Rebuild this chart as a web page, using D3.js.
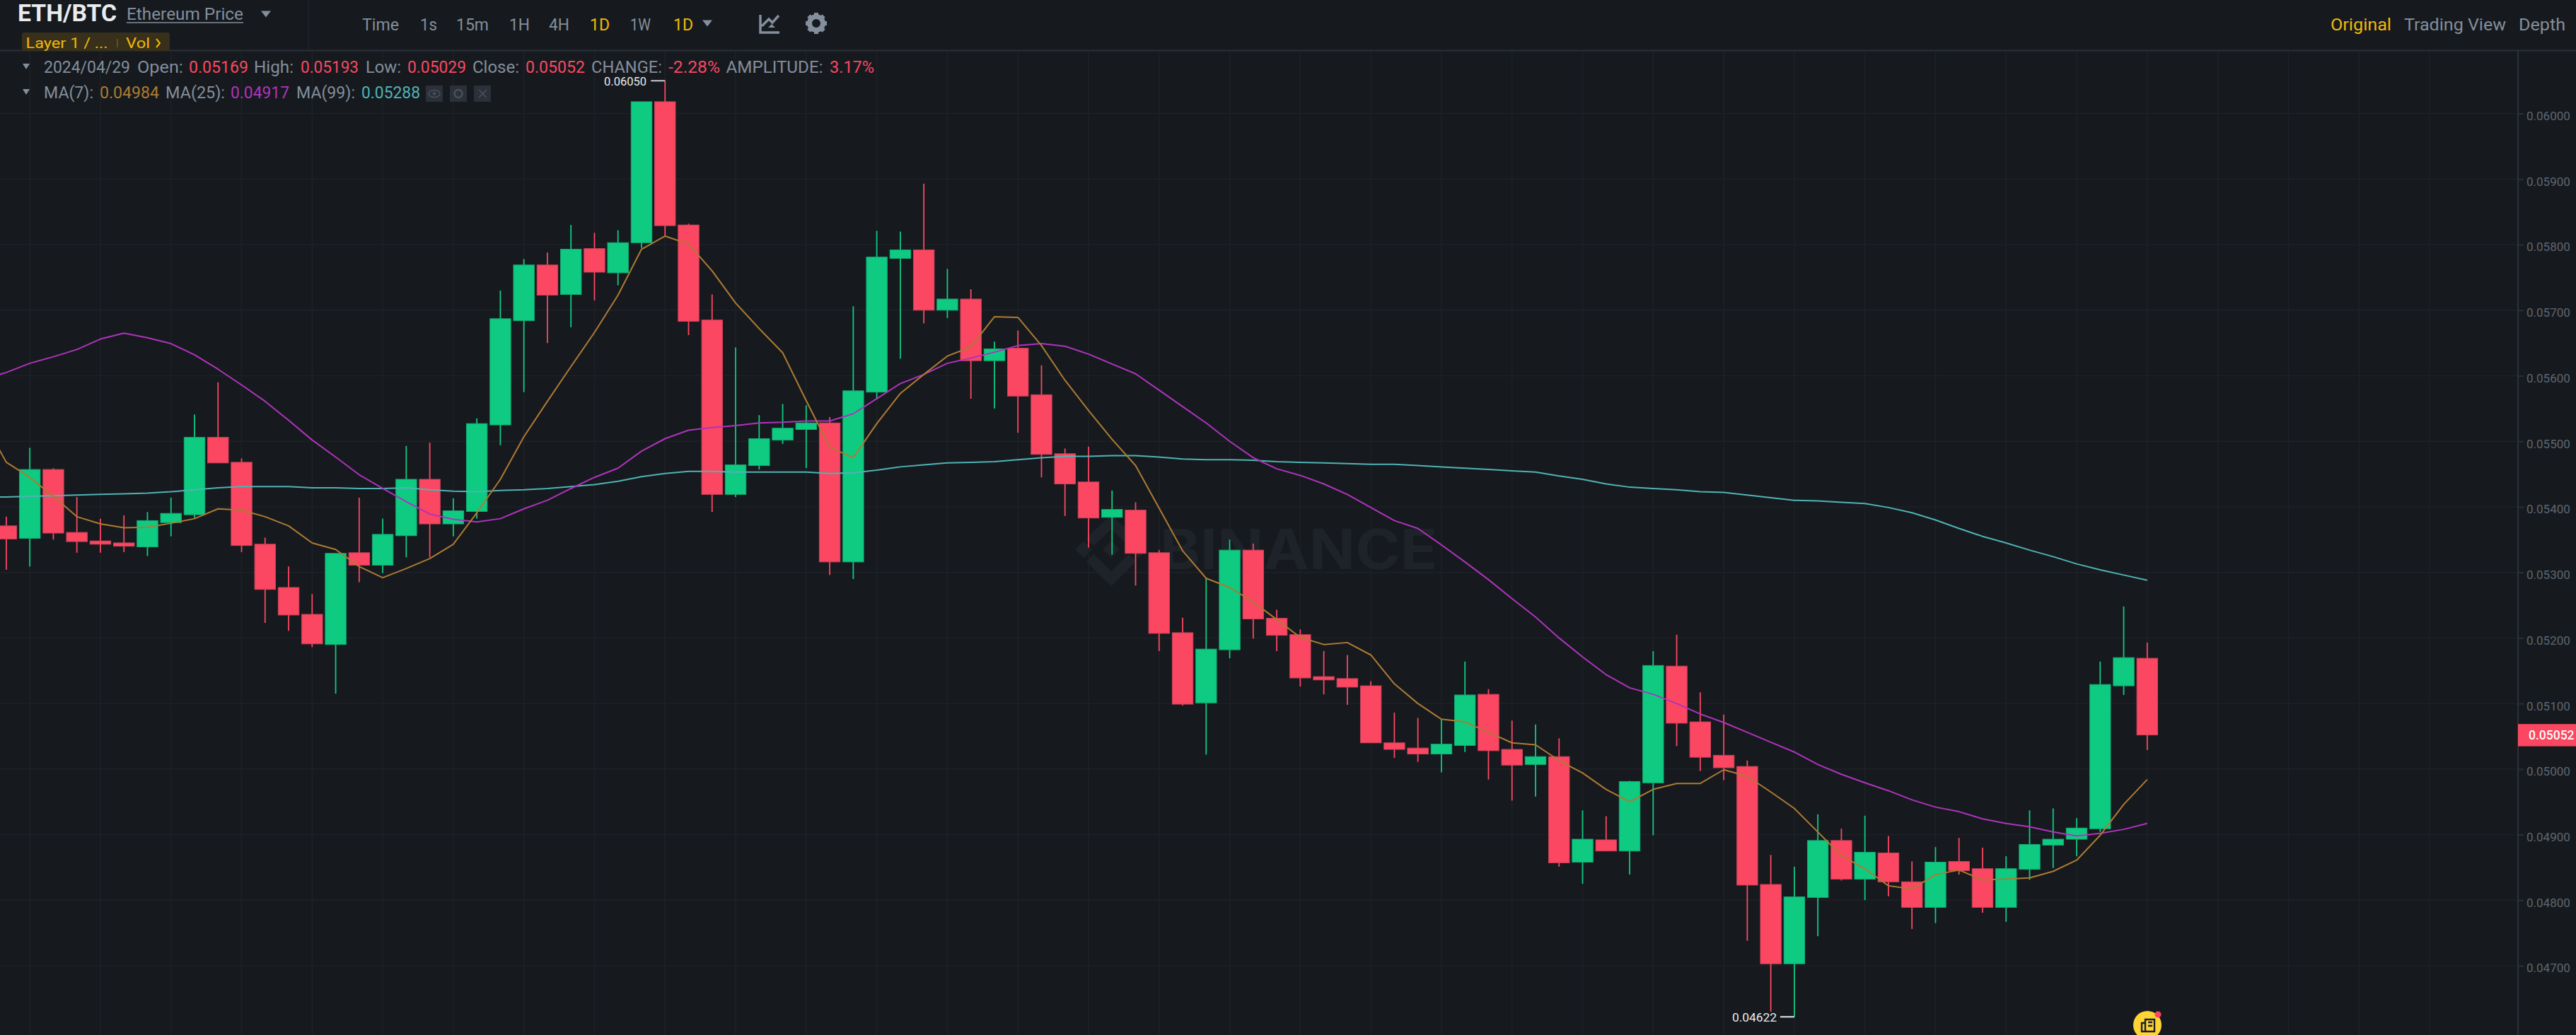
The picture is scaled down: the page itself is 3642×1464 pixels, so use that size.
<!DOCTYPE html>
<html><head><meta charset="utf-8">
<script src="https://cdn.jsdelivr.net/npm/d3@7"></script>
<style>html,body{margin:0;padding:0;background:#161a1e;overflow:hidden}svg{display:block}text{font-family:Roboto,Inter,sans-serif}</style>
</head><body><svg id="c" width="3642" height="1464"></svg>
<script>
const opens=[0.05371,0.05352,0.05457,0.05361,0.05348,0.05345,0.05339,0.05376,0.05388,0.05506,0.05468,0.05343,0.05277,0.05236,0.05190,0.05330,0.05311,0.05356,0.05442,0.05374,0.05393,0.05525,0.05684,0.05769,0.05724,0.05794,0.05757,0.05803,0.06018,0.05830,0.05685,0.05419,0.05463,0.05502,0.05518,0.05528,0.05316,0.05575,0.05779,0.05792,0.05700,0.05717,0.05623,0.05642,0.05571,0.05481,0.05438,0.05384,0.05395,0.05330,0.05208,0.05101,0.05182,0.05334,0.05230,0.05205,0.05141,0.05138,0.05127,0.05040,0.05032,0.05023,0.05036,0.05114,0.05030,0.05007,0.05019,0.04858,0.04892,0.04875,0.04979,0.05157,0.05072,0.05021,0.05004,0.04824,0.04703,0.04804,0.04891,0.04832,0.04872,0.04828,0.04789,0.04859,0.04848,0.04789,0.04847,0.04884,0.04893,0.04909,0.05127,0.05169];
const closes=[0.05351,0.05457,0.05360,0.05347,0.05343,0.05340,0.05379,0.05390,0.05506,0.05467,0.05341,0.05274,0.05235,0.05191,0.05329,0.05311,0.05358,0.05442,0.05374,0.05394,0.05527,0.05687,0.05769,0.05723,0.05793,0.05758,0.05803,0.06018,0.05829,0.05683,0.05419,0.05464,0.05504,0.05520,0.05528,0.05316,0.05577,0.05781,0.05792,0.05700,0.05717,0.05623,0.05641,0.05569,0.05480,0.05435,0.05383,0.05396,0.05329,0.05207,0.05099,0.05183,0.05334,0.05229,0.05204,0.05139,0.05136,0.05125,0.05040,0.05030,0.05023,0.05038,0.05113,0.05028,0.05006,0.05019,0.04857,0.04893,0.04875,0.04981,0.05158,0.05070,0.05018,0.05002,0.04823,0.04703,0.04805,0.04891,0.04832,0.04873,0.04828,0.04789,0.04858,0.04845,0.04789,0.04848,0.04885,0.04893,0.04910,0.05129,0.05170,0.05052];
const highs=[0.05385,0.05490,0.05459,0.05415,0.05382,0.05387,0.05392,0.05414,0.05541,0.05590,0.05474,0.05353,0.05309,0.05267,0.05329,0.05414,0.05382,0.05493,0.05498,0.05413,0.05535,0.05730,0.05778,0.05788,0.05830,0.05818,0.05822,0.06018,0.06050,0.05832,0.05724,0.05643,0.05540,0.05557,0.05555,0.05537,0.05706,0.05821,0.05820,0.05893,0.05763,0.05732,0.05652,0.05669,0.05616,0.05489,0.05492,0.05425,0.05407,0.05334,0.05231,0.05291,0.05350,0.05344,0.05243,0.05213,0.05180,0.05174,0.05134,0.05086,0.05078,0.05076,0.05164,0.05122,0.05074,0.05068,0.05047,0.04937,0.04928,0.04982,0.05180,0.05205,0.05117,0.05083,0.05013,0.04869,0.04851,0.04931,0.04909,0.04929,0.04898,0.04859,0.04881,0.04895,0.04880,0.04867,0.04937,0.04940,0.04925,0.05164,0.05248,0.05193];
const lows=[0.05304,0.05309,0.05350,0.05330,0.05330,0.05331,0.05325,0.05355,0.05383,0.05467,0.05331,0.05223,0.05211,0.05186,0.05115,0.05285,0.05299,0.05323,0.05323,0.05355,0.05382,0.05494,0.05575,0.05650,0.05674,0.05715,0.05738,0.05795,0.05812,0.05662,0.05392,0.05415,0.05457,0.05496,0.05459,0.05296,0.05290,0.05564,0.05626,0.05680,0.05688,0.05565,0.05550,0.05513,0.05445,0.05386,0.05338,0.05327,0.05280,0.05180,0.05097,0.05022,0.05169,0.05199,0.05180,0.05126,0.05114,0.05098,0.05040,0.05017,0.05011,0.04995,0.05026,0.04984,0.04952,0.04958,0.04851,0.04825,0.04875,0.04839,0.04899,0.05035,0.04997,0.04983,0.04738,0.04630,0.04622,0.04745,0.04830,0.04800,0.04806,0.04756,0.04765,0.04839,0.04781,0.04767,0.04831,0.04849,0.04867,0.04904,0.05113,0.05029];
// moving averages start one session before the first visible candle
const ma7=[0.05533,0.05468,0.05445,0.05416,0.05385,0.05374,0.05368,0.05369,0.05375,0.05382,0.05397,0.05395,0.05385,0.05371,0.05345,0.05335,0.05309,0.05292,0.05306,0.05321,0.05343,0.05391,0.05442,0.05507,0.05561,0.05614,0.05666,0.05723,0.05793,0.05813,0.05801,0.05760,0.05711,0.05672,0.05635,0.05562,0.05491,0.05475,0.05527,0.05573,0.05602,0.05630,0.05644,0.05690,0.05689,0.05646,0.05593,0.05547,0.05503,0.05463,0.05398,0.05333,0.05291,0.05277,0.05255,0.05228,0.05201,0.05190,0.05193,0.05174,0.05130,0.05100,0.05076,0.05072,0.05056,0.05040,0.05037,0.05013,0.04994,0.04969,0.04950,0.04969,0.04978,0.04978,0.04999,0.04989,0.04965,0.04940,0.04904,0.04868,0.04848,0.04822,0.04817,0.04839,0.04846,0.04831,0.04832,0.04834,0.04844,0.04861,0.04899,0.04946,0.04984];
const ma25=[0.05594,0.05605,0.05619,0.05629,0.05640,0.05656,0.05665,0.05658,0.05649,0.05632,0.05610,0.05586,0.05561,0.05532,0.05502,0.05476,0.05449,0.05428,0.05408,0.05389,0.05381,0.05377,0.05382,0.05397,0.05410,0.05428,0.05445,0.05459,0.05485,0.05504,0.05517,0.05521,0.05524,0.05528,0.05529,0.05531,0.05531,0.05542,0.05565,0.05588,0.05602,0.05619,0.05627,0.05636,0.05646,0.05649,0.05645,0.05633,0.05618,0.05603,0.05578,0.05553,0.05528,0.05500,0.05475,0.05458,0.05448,0.05435,0.05419,0.05399,0.05379,0.05367,0.05342,0.05316,0.05289,0.05260,0.05232,0.05200,0.05171,0.05144,0.05124,0.05114,0.05100,0.05084,0.05071,0.05056,0.05041,0.05026,0.05007,0.04992,0.04979,0.04967,0.04953,0.04942,0.04935,0.04924,0.04917,0.04912,0.04904,0.04898,0.04902,0.04908,0.04917];
const ma99=[0.05415,0.05415,0.05416,0.05417,0.05418,0.05419,0.05420,0.05421,0.05423,0.05426,0.05429,0.05431,0.05431,0.05431,0.05429,0.05429,0.05428,0.05428,0.05429,0.05426,0.05424,0.05423,0.05425,0.05426,0.05428,0.05431,0.05434,0.05439,0.05446,0.05451,0.05454,0.05454,0.05453,0.05453,0.05453,0.05453,0.05451,0.05452,0.05456,0.05461,0.05464,0.05467,0.05468,0.05469,0.05472,0.05475,0.05477,0.05477,0.05478,0.05478,0.05476,0.05473,0.05472,0.05472,0.05471,0.05469,0.05468,0.05467,0.05466,0.05465,0.05465,0.05463,0.05461,0.05459,0.05457,0.05455,0.05453,0.05447,0.05442,0.05435,0.05430,0.05428,0.05426,0.05423,0.05422,0.05418,0.05414,0.05410,0.05409,0.05407,0.05405,0.05399,0.05391,0.05380,0.05367,0.05355,0.05345,0.05334,0.05324,0.05313,0.05304,0.05296,0.05288];
const yTicks=[0.047,0.048,0.049,0.050,0.051,0.052,0.053,0.054,0.055,0.056,0.057,0.058,0.059,0.060];
const lastPrice=0.05052, maxHigh=0.06050, minLow=0.04622;
const intervals=["Time","1s","15m","1H","4H","1D","1W","1D"];

const C={bg:"#161a1e",grid:"#1e2228",axis:"#2b3039",up:"#0ecb81",down:"#fb4761",upS:"#14a974",downS:"#c9425a",
 ma7:"#ae7a33",ma25:"#af33bd",ma99:"#4fb3b5",gold:"#f0b90b",grey:"#848e9c",tick:"#5e6673",mark:"#1e2229"};
const svg=d3.select("#c");
svg.append("rect").attr("width",3642).attr("height",1464).attr("fill",C.bg);
const x=d3.scaleLinear().domain([0,91]).range([8.9,3035.8]);
const y=d3.scaleLinear().domain([0.047,0.060]).range([1366,160.6]);
const axisX=3560,plotTop=72,H=1464;
function T(s,px,py,size,fill,o={}){
  const t=svg.append("text").attr("x",px).attr("y",py).attr("font-size",size).attr("fill",fill).text(s);
  if(o.weight)t.attr("font-weight",o.weight);
  if(o.w)t.attr("textLength",o.w).attr("lengthAdjust","spacingAndGlyphs");
  return t;
}
// grid
const grid=svg.append("g");
grid.selectAll("line.v").data(d3.range(1,104,3).filter(i=>x(i)<axisX)).join("line")
  .attr("x1",d=>x(d)).attr("x2",d=>x(d)).attr("y1",plotTop).attr("y2",H).attr("stroke",C.grid).attr("stroke-width",1.5);
grid.selectAll("line.h").data(yTicks).join("line").attr("class","h")
  .attr("x1",0).attr("x2",axisX).attr("y1",d=>y(d)).attr("y2",d=>y(d)).attr("stroke",C.grid).attr("stroke-width",1.5);
// watermark
const wm=svg.append("g");
T("BINANCE",1640,805,78,C.mark,{weight:700,w:392}).style("font-family","Inter,Roboto,sans-serif");
wm.append("path").attr("d","M1541,767L1571,738L1601,767M1541,789L1571,819L1601,789").attr("fill","none").attr("stroke",C.mark).attr("stroke-width",15);
[[1571,777],[1532,777],[1610,777]].forEach(p=>wm.append("rect").attr("x",p[0]-8.5).attr("y",p[1]-8.5).attr("width",17).attr("height",17)
  .attr("transform",`rotate(45 ${p[0]} ${p[1]})`).attr("fill",C.mark));
// candles
const candles=d3.range(opens.length).map(i=>({i,o:opens[i],c:closes[i],h:highs[i],l:lows[i]}));
const g=svg.append("g");
const isUp=d=>d.c>=d.o;
g.selectAll("line.w").data(candles).join("line").attr("class","w")
  .attr("x1",d=>x(d.i)).attr("x2",d=>x(d.i)).attr("y1",d=>y(d.h)).attr("y2",d=>y(d.l))
  .attr("stroke",d=>isUp(d)?C.up:C.down).attr("stroke-width",1.8);
g.selectAll("rect").data(candles).join("rect")
  .attr("x",d=>x(d.i)-14.7).attr("width",29.4)
  .attr("y",d=>y(Math.max(d.o,d.c))).attr("height",d=>Math.max(1.5,y(Math.min(d.o,d.c))-y(Math.max(d.o,d.c))))
  .attr("fill",d=>isUp(d)?C.up:C.down).attr("stroke",d=>isUp(d)?C.upS:C.downS).attr("stroke-width",1);
// moving averages
const line=d3.line().x((d,i)=>x(i-1)).y(d=>y(d));
[[ma99,C.ma99],[ma25,C.ma25],[ma7,C.ma7]].forEach(([a,c])=>svg.append("path").datum(a).attr("d",line).attr("fill","none").attr("stroke",c).attr("stroke-width",2).attr("stroke-linejoin","round"));
// axis
svg.append("line").attr("x1",axisX).attr("x2",axisX).attr("y1",plotTop).attr("y2",H).attr("stroke",C.axis).attr("stroke-width",2);
const ax=svg.append("g").attr("transform",`translate(${axisX},0)`).call(d3.axisRight(y).tickValues(yTicks).tickFormat(d3.format(".5f")).tickSize(8).tickPadding(4));
ax.select(".domain").remove();
ax.selectAll(".tick line").attr("stroke",C.axis).attr("stroke-width",2);
ax.selectAll(".tick text").attr("fill",C.tick).attr("font-size",17).attr("font-family","Roboto,Inter,sans-serif").attr("dy","0.7em").attr("y",-3);
// last price tag
svg.append("rect").attr("x",axisX).attr("width",3642-axisX).attr("y",y(lastPrice)-15.5).attr("height",31.5).attr("fill",C.down);
T(d3.format(".5f")(lastPrice),3575,y(lastPrice)+6.5,17.5,"#fff",{weight:500});
// high/low annotations
svg.append("line").attr("x1",x(28)-20).attr("x2",x(28)).attr("y1",y(maxHigh)).attr("y2",y(maxHigh)).attr("stroke","#c8ccd2").attr("stroke-width",2);
T(d3.format(".5f")(maxHigh),854,y(maxHigh)+6.5,17,"#e8eaed",{w:60});
svg.append("line").attr("x1",x(76)-20).attr("x2",x(76)).attr("y1",y(minLow)).attr("y2",y(minLow)).attr("stroke","#e8eaed").attr("stroke-width",2);
T(d3.format(".5f")(minLow),2449,y(minLow)+7,17,"#e8eaed",{w:63});
// header
svg.append("rect").attr("width",3642).attr("height",71).attr("fill",C.bg);
svg.append("line").attr("x1",0).attr("x2",3642).attr("y1",71.5).attr("y2",71.5).attr("stroke",C.axis).attr("stroke-width",2);
svg.append("line").attr("x1",436).attr("x2",436).attr("y1",0).attr("y2",71).attr("stroke","#20252b").attr("stroke-width",1.5);
T("ETH/BTC",25,30,33,"#eaecef",{weight:700,w:140});
T("Ethereum Price",179,28,24,C.grey,{w:165});
svg.append("line").attr("x1",179).attr("x2",344).attr("y1",32).attr("y2",32).attr("stroke",C.grey).attr("stroke-width",1.6);
const tri=(cx,cy,w,h,f)=>svg.append("path").attr("d",`M${cx-w/2},${cy-h/2}h${w}l${-w/2},${h}z`).attr("fill",f);
tri(376,20,14,9,C.grey);
const ivX=[512,594,645,720,776,834,891,952],ivW=[52,24,46,29,29,28,29,28];
intervals.forEach((s,i)=>T(s,ivX[i],43,23,(i==5||i==7)?C.gold:C.grey,{w:ivW[i]}));
tri(1000,33,14,9,C.grey);
svg.append("path").attr("d","M1075,21v25h27M1077,37l10,-10l5,5l9,-10").attr("fill","none").attr("stroke",C.grey).attr("stroke-width",3.5);
svg.append("path").attr("d","M1086,39h10l-5,-5z").attr("fill",C.grey);
const gear=svg.append("g").attr("transform","translate(1154,33)");
gear.append("circle").attr("r",9.5).attr("fill","none").attr("stroke",C.grey).attr("stroke-width",7);
d3.range(8).forEach(k=>gear.append("rect").attr("x",-3).attr("y",-15).attr("width",6).attr("height",6).attr("fill",C.grey).attr("transform",`rotate(${k*45})`));
// chip
svg.append("rect").attr("x",31).attr("y",46).attr("width",209).attr("height",26).attr("rx",3).attr("fill","#38301a");
T("Layer 1 / ...",36.5,67.5,21,C.gold,{w:116});
svg.append("line").attr("x1",166).attr("x2",166).attr("y1",55).attr("y2",67).attr("stroke","#6b5a1f").attr("stroke-width",1.5);
T("Vol",178,67.5,21,C.gold,{w:34});
svg.append("path").attr("d","M221,55l5,6l-5,6").attr("fill","none").attr("stroke",C.gold).attr("stroke-width",2);
// info rows
tri(37,94,10,8,C.grey);
const rd=C.down;
[["2024/04/29",62,C.grey,122],["Open:",194,C.grey,65],["0.05169",267,rd,84],["High:",359,C.grey,56],["0.05193",425,rd,82],["Low:",517,C.grey,50],["0.05029",576,rd,83],["Close:",668,C.grey,66],["0.05052",743,rd,84],["CHANGE:",836,C.grey,100],["-2.28%",945,rd,73],["AMPLITUDE:",1026.5,C.grey,137],["3.17%",1173,rd,63]]
 .forEach(r=>T(r[0],r[1],103,23,r[2],{w:r[3]}));
tri(37,130,10,8,C.grey);
[["MA(7):",62,C.grey,70],["0.04984",141,C.ma7,84],["MA(25):",234,C.grey,84],["0.04917",326,C.ma25,83],["MA(99):",419,C.grey,83],["0.05288",511,C.ma99,83]]
 .forEach(r=>T(r[0],r[1],139,23,r[2],{w:r[3]}));
[602,636,670].forEach(px=>svg.append("rect").attr("x",px).attr("y",121).attr("width",24).attr("height",23).attr("fill","#2b3039"));
svg.append("ellipse").attr("cx",614).attr("cy",132.5).attr("rx",8).attr("ry",5).attr("fill","none").attr("stroke","#4a515c").attr("stroke-width",1.5);
svg.append("circle").attr("cx",614).attr("cy",132.5).attr("r",2.2).attr("fill","#4a515c");
svg.append("circle").attr("cx",648).attr("cy",132.5).attr("r",5.5).attr("fill","none").attr("stroke","#4a515c").attr("stroke-width",2.5);
svg.append("path").attr("d","M677,127l11,11M688,127l-11,11").attr("stroke","#4a515c").attr("stroke-width",1.5);
// view tabs
T("Original",3295,43,24,C.gold,{w:86});
T("Trading View",3399,43,24,C.grey,{w:144});
T("Depth",3561,43,24,C.grey,{w:66});
// floating button
svg.append("circle").attr("cx",3036).attr("cy",1450).attr("r",20).attr("fill","#fcd535");
svg.append("circle").attr("cx",3051).attr("cy",1435).attr("r",4.5).attr("fill",C.down);
svg.append("path").attr("d","M3028,1450v-3h5v-5h13v17h-18zM3033,1447v12M3037,1446h6M3037,1451h6").attr("fill","none").attr("stroke","#1e2026").attr("stroke-width",2.4);
</script></body></html>
